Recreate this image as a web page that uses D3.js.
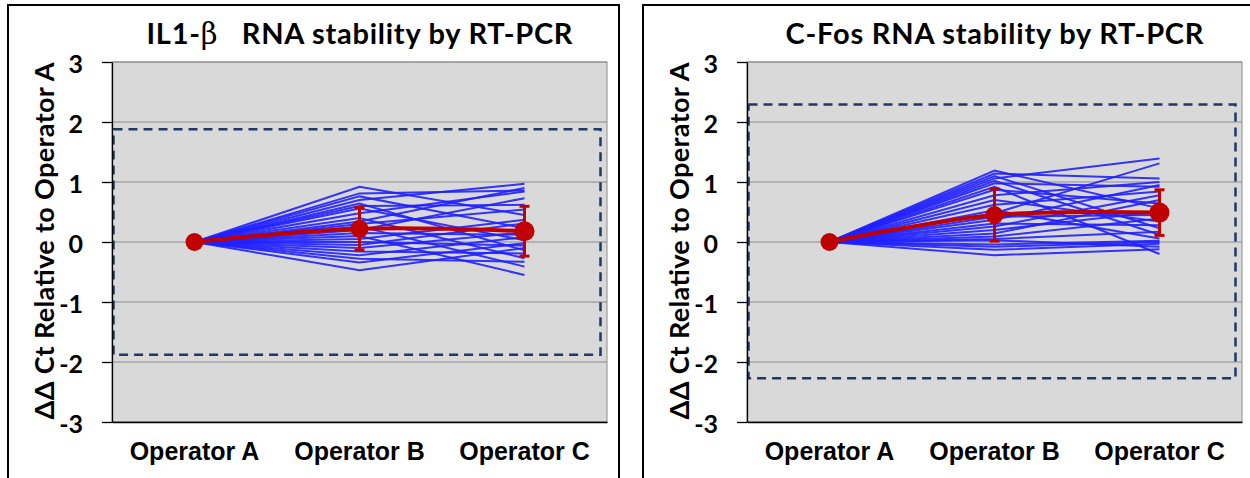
<!DOCTYPE html>
<html>
<head>
<meta charset="utf-8">
<script src="https://d3js.org/d3.v7.min.js"></script>
<style>
  body { margin: 0; background: #fff; }
  svg { display: block; }
</style>
</head>
<body>
<svg id="chart"></svg>
<script>
// categories and axis ticks
var operators = ["Operator A", "Operator B", "Operator C"];
var yTicks = [-3, -2, -1, 0, 1, 2, 3];

// IL1-beta: each sample line goes 0 (A) -> B -> C
var il1B = [0.92, 0.81, 0.76, 0.70, 0.64, 0.60, 0.56, 0.48, 0.40, 0.34, 0.30, 0.26, 0.20, 0.15, 0.10, 0.05, 0.00, -0.05, -0.10, -0.16, -0.22, -0.28, -0.34, -0.47];
var il1C = [0.45, 0.86, 0.23, 0.97, -0.14, 0.62, 0.03, 0.84, -0.27, 0.90, 0.54, -0.41, 0.73, 0.12, -0.55, 0.37, -0.06, 0.31, 0.16, -0.19, 0.08, -0.33, -0.02, -0.10];
var il1Mean = [0, 0.22, 0.18];
var il1Err = [0, 0.355, 0.415];
var il1Limits = [-1.88, 1.88];

// C-Fos
var cfosB = [1.19, 1.14, 1.10, 1.06, 1.02, 0.98, 0.92, 0.87, 0.78, 0.70, 0.62, 0.53, 0.48, 0.42, 0.37, 0.31, 0.26, 0.20, 0.14, 0.09, 0.05, 0.03, -0.04, -0.08, -0.13, -0.22];
var cfosC = [0.56, 1.06, 0.23, 1.39, 0.12, 0.92, -0.20, 0.64, 1.00, 0.34, 0.84, 0.06, 1.31, 0.45, 0.95, 0.28, 0.78, 0.51, 0.70, 0.39, 0.17, -0.08, 0.02, 0.00, -0.03, -0.12];
var cfosMean = [0, 0.45, 0.49];
var cfosErr = [0, 0.435, 0.38];
var cfosLimits = [-2.27, 2.29];

var width = 1250, height = 478;
var plotW = 495, plotH = 360;

var svg = d3.select("#chart").attr("width", width).attr("height", height);

var x = d3.scaleBand().domain(operators).range([0, plotW]);
var y = d3.scaleLinear().domain([-3, 3]).range([plotH, 0]);
function cx(c) { return x(c) + x.bandwidth() / 2; }

function drawPanel(left, titleParts, titleLen, frameW, sB, sC, mean, err, limits) {
  var g = svg.append("g").attr("transform", "translate(" + left + ",0)");

  // frame
  g.append("rect")
    .attr("x", 0).attr("y", 5).attr("width", frameW).attr("height", 490)
    .attr("fill", "none").attr("stroke", "#000").attr("stroke-width", 2);

  // title
  var t = g.append("text")
    .attr("x", 104 + plotW / 2).attr("y", 44)
    .attr("text-anchor", "middle")
    .attr("textLength", titleLen)
    .style("white-space", "pre")
    .style("font-family", "Lato, 'Open Sans', sans-serif")
    .style("font-weight", "bold").style("font-size", "29px");
  titleParts.forEach(function(p) {
    var s = t.append("tspan").text(p.text);
    if (p.serif) s.style("font-family", "'DejaVu Serif', serif").style("font-weight", "normal");
  });

  // y label
  g.append("text")
    .attr("transform", "translate(36,241) rotate(-90)")
    .attr("text-anchor", "middle")
    .attr("dy", "0.36em")
    .attr("textLength", 357)
    .style("font-family", "Lato, 'Open Sans', sans-serif")
    .style("font-weight", "bold").style("font-size", "27px")
    .text("\u0394\u0394 Ct Relative to Operator A");

  var p = g.append("g").attr("transform", "translate(104,62)");

  p.append("rect").attr("width", plotW).attr("height", plotH)
    .attr("fill", "#d9d9d9").attr("stroke", "#8c8c8c").attr("stroke-width", 1);

  p.selectAll("line.grid").data(yTicks).enter().append("line")
    .attr("class", "grid")
    .attr("x1", 0).attr("x2", plotW)
    .attr("y1", function(d) { return y(d); }).attr("y2", function(d) { return y(d); })
    .attr("stroke", "#8c8c8c").attr("stroke-width", 1);

  // dashed acceptance box
  p.append("rect")
    .attr("x", 1.5).attr("width", plotW - 8)
    .attr("y", y(limits[1])).attr("height", y(limits[0]) - y(limits[1]))
    .attr("fill", "none").attr("stroke", "#1f3864").attr("stroke-width", 2.5)
    .attr("stroke-dasharray", "9,6");

  // axes
  var ya = p.append("g")
    .call(d3.axisLeft(y).tickValues(yTicks).tickSize(10).tickSizeOuter(0).tickPadding(19)
      .tickFormat(function(d) { return String(d); }))
    .attr("font-size", 25)
    .attr("font-family", "Lato, 'Open Sans', sans-serif")
    .attr("font-weight", "bold");
  ya.selectAll("text").attr("fill", "#000").attr("dy", "0.4em");
  ya.selectAll("line, path").attr("stroke", "#000").attr("stroke-width", 1.3);

  var xa = p.append("g").attr("transform", "translate(0," + plotH + ")")
    .call(d3.axisBottom(x).tickSize(0).tickPadding(20))
    .attr("font-size", 25)
    .attr("font-family", "'Liberation Sans', Arial, sans-serif")
    .attr("font-weight", "bold");
  xa.selectAll("text").attr("fill", "#000");
  xa.select("path").attr("stroke", "#000").attr("stroke-width", 1.3);

  // sample lines
  var samples = sB.map(function(b, i) { return [0, b, sC[i]]; });
  var line = d3.line()
    .x(function(d, i) { return cx(operators[i]); })
    .y(function(d) { return y(d); });
  p.selectAll("path.sample").data(samples).enter().append("path")
    .attr("class", "sample")
    .attr("d", line)
    .attr("fill", "none").attr("stroke", "#2020ff").attr("stroke-width", 2)
    .attr("stroke-opacity", 0.9);

  // mean line
  var meanLine = d3.line()
    .x(function(d, i) { return cx(operators[i]); })
    .y(function(d) { return y(d); })
    .curve(d3.curveCatmullRom.alpha(0.5));
  p.append("path").datum(mean)
    .attr("d", meanLine)
    .attr("fill", "none").attr("stroke", "#c00000").attr("stroke-width", 4);

  // error bars
  var eb = p.selectAll("g.err").data(mean.map(function(m, i) { return { m: m, e: err[i], c: operators[i] }; })
      .filter(function(d) { return d.e > 0; }))
    .enter().append("g").attr("class", "err");
  eb.append("line")
    .attr("x1", function(d) { return cx(d.c); }).attr("x2", function(d) { return cx(d.c); })
    .attr("y1", function(d) { return y(d.m + d.e); }).attr("y2", function(d) { return y(d.m - d.e); })
    .attr("stroke", "#c00000").attr("stroke-width", 3);
  [1, -1].forEach(function(s) {
    eb.append("line")
      .attr("x1", function(d) { return cx(d.c) - 5; }).attr("x2", function(d) { return cx(d.c) + 5; })
      .attr("y1", function(d) { return y(d.m + s * d.e); }).attr("y2", function(d) { return y(d.m + s * d.e); })
      .attr("stroke", "#c00000").attr("stroke-width", 3);
  });

  // mean dots
  p.selectAll("circle.mean").data(mean).enter().append("circle")
    .attr("class", "mean")
    .attr("cx", function(d, i) { return cx(operators[i]); })
    .attr("cy", function(d) { return y(d); })
    .attr("r", function(d, i) { return i === 2 ? 10 : 9; })
    .attr("fill", "#c00000");
}

drawPanel(8, [{ text: "IL1-" }, { text: "\u03b2", serif: true }, { text: "   RNA stability by RT-PCR" }], 426, 611,
  il1B, il1C, il1Mean, il1Err, il1Limits);
drawPanel(643, [{ text: "C-Fos RNA stability by RT-PCR" }], 418, 615,
  cfosB, cfosC, cfosMean, cfosErr, cfosLimits);
</script>
</body>
</html>
